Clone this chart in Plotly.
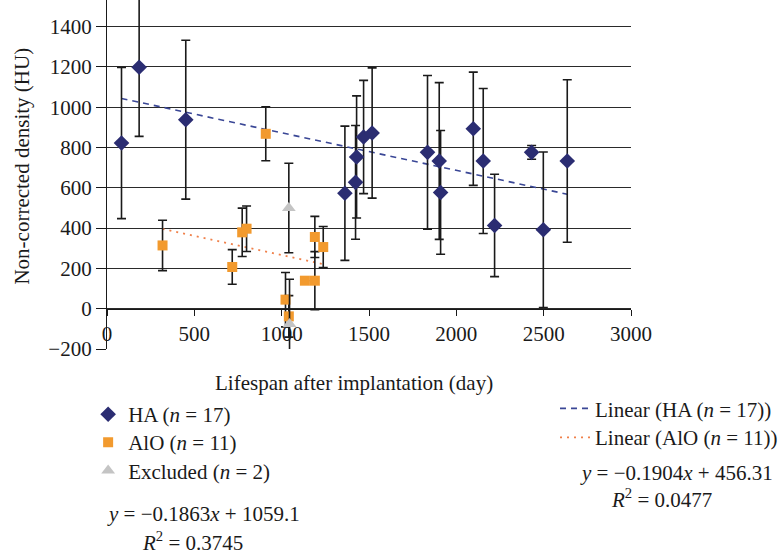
import plotly.graph_objects as go

# ---------------- data ----------------
ha_x = [83, 184, 451, 1362, 1423, 1429, 1469, 1518, 1835, 1902, 1910, 2097, 2154, 2219, 2431, 2498, 2635]
ha_y = [822, 1198, 938, 573, 627, 753, 852, 872, 776, 733, 577, 893, 733, 413, 776, 392, 733]
ha_err = [375, 343, 394, 333, 282, 303, 281, 323, 381, 389, 307, 281, 360, 254, 34, 386, 403]

alo_x = [318, 717, 774, 799, 909, 1022, 1041, 1133, 1190, 1190, 1238]
alo_y = [314, 207, 379, 397, 868, 45, -38, 139, 139, 356, 306]
alo_err = [125, 86, 120, 113, 134, 135, 103, 0, 144, 102, 102]

exc_x = [1041, 1045]
exc_y = [500, -76]
exc_err = [222, 222]

ha_slope, ha_icpt = -0.1863, 1059.1
alo_slope, alo_icpt = -0.1904, 456.31

x_ticks = [0, 500, 1000, 1500, 2000, 2500, 3000]
y_ticks = [-200, 0, 200, 400, 600, 800, 1000, 1200, 1400]

# ---------------- style ----------------
FONT = "Liberation Serif"
FS = 21
NAVY = "#2b2d72"
ORANGE = "#f29a2e"
GREY = "#c4c4c4"
Y_RANGE = [-200, 1532]

err_style = dict(type="data", visible=True, color="#1a1a1a", thickness=1.6, width=4.5)

fig = go.Figure()

# trend lines
ha_tx = [min(ha_x), max(ha_x)]
alo_tx = [min(alo_x), max(alo_x)]
fig.add_trace(go.Scatter(
    x=ha_tx, y=[ha_slope * v + ha_icpt for v in ha_tx], mode="lines",
    line=dict(color="#3a4796", width=1.6, dash="6px,5px"),
    name="Linear (HA (<i>n</i> = 17))", legend="legend4"))
fig.add_trace(go.Scatter(
    x=alo_tx, y=[alo_slope * v + alo_icpt for v in alo_tx], mode="lines",
    line=dict(color="#f0804a", width=1.8, dash="2px,5px"),
    name="Linear (AlO (<i>n</i> = 11))", legend="legend5"))

fig.add_trace(go.Scatter(
    x=ha_x, y=ha_y, mode="markers", name="HA (<i>n</i> = 17)",
    marker=dict(symbol="diamond", size=12, color=NAVY),
    error_y=dict(array=ha_err, **err_style), legend="legend"))
fig.add_trace(go.Scatter(
    x=alo_x, y=alo_y, mode="markers", name="AlO (<i>n</i> = 11)",
    marker=dict(symbol="square", size=10, color=ORANGE),
    error_y=dict(array=alo_err, **err_style), legend="legend2"))
fig.add_trace(go.Scatter(
    x=exc_x, y=exc_y, mode="markers", name="Excluded (<i>n</i> = 2)",
    marker=dict(symbol="triangle-up", size=12, color=GREY),
    error_y=dict(array=exc_err, **err_style), legend="legend3"))

zero_pos = (0 - Y_RANGE[0]) / (Y_RANGE[1] - Y_RANGE[0])


def leg(x, y):
    return dict(x=x, y=y, xanchor="left", yanchor="middle", bgcolor="rgba(0,0,0,0)",
                font=dict(size=FS), itemwidth=30)


def ann(text, x, y, xanchor="center", **kw):
    return dict(text=text, x=x, y=y, xref="paper", yref="paper", showarrow=False,
                xanchor=xanchor, yanchor="middle", font=dict(size=FS), **kw)


fig.update_layout(
    width=782, height=558,
    margin=dict(l=107, r=151, t=0, b=209, autoexpand=False),
    paper_bgcolor="white", plot_bgcolor="white",
    font=dict(family=FONT, size=FS, color="#1a1a1a"),
    showlegend=True,
    xaxis=dict(range=[0, 3000], tickvals=x_ticks, showgrid=False, zeroline=False,
               showline=True, linecolor="#1a1a1a", linewidth=1.2,
               anchor="free", position=zero_pos,
               ticks="outside", ticklen=6, tickcolor="#1a1a1a", tickwidth=1.2,
               tickfont=dict(size=FS)),
    yaxis=dict(range=Y_RANGE, tickvals=y_ticks, showgrid=True, gridcolor="#2a2a2a",
               gridwidth=1, zeroline=False, showline=True, linecolor="#1a1a1a",
               linewidth=1.2, ticks="outside", ticklen=10, tickcolor="#1a1a1a",
               tickwidth=1.2, tickfont=dict(size=FS)),
    legend=leg(-0.036, -0.188),
    legend2=leg(-0.036, -0.268),
    legend3=leg(-0.036, -0.349),
    legend4=leg(0.855, -0.171),
    legend5=leg(0.855, -0.254),
    annotations=[
        ann("Lifespan after implantation (day)", 0.471, -0.098),
        ann("Non-corrected density (HU)", -0.162, 0.523, textangle=-90),
        ann("<i>y</i> = −0.1863<i>x</i> + 1059.1", -0.004, -0.474, xanchor="left"),
        ann("<i>R</i><sup>2</sup> = 0.3745", 0.063, -0.552, xanchor="left"),
        ann("<i>y</i> = −0.1904<i>x</i> + 456.31", 1.275, -0.355, xanchor="right"),
        ann("<i>R</i><sup>2</sup> = 0.0477", 1.059, -0.428),
    ],
)

fig.write_html("out.html", config={"displayModeBar": False},
               post_script="document.body.style.margin='0';")
